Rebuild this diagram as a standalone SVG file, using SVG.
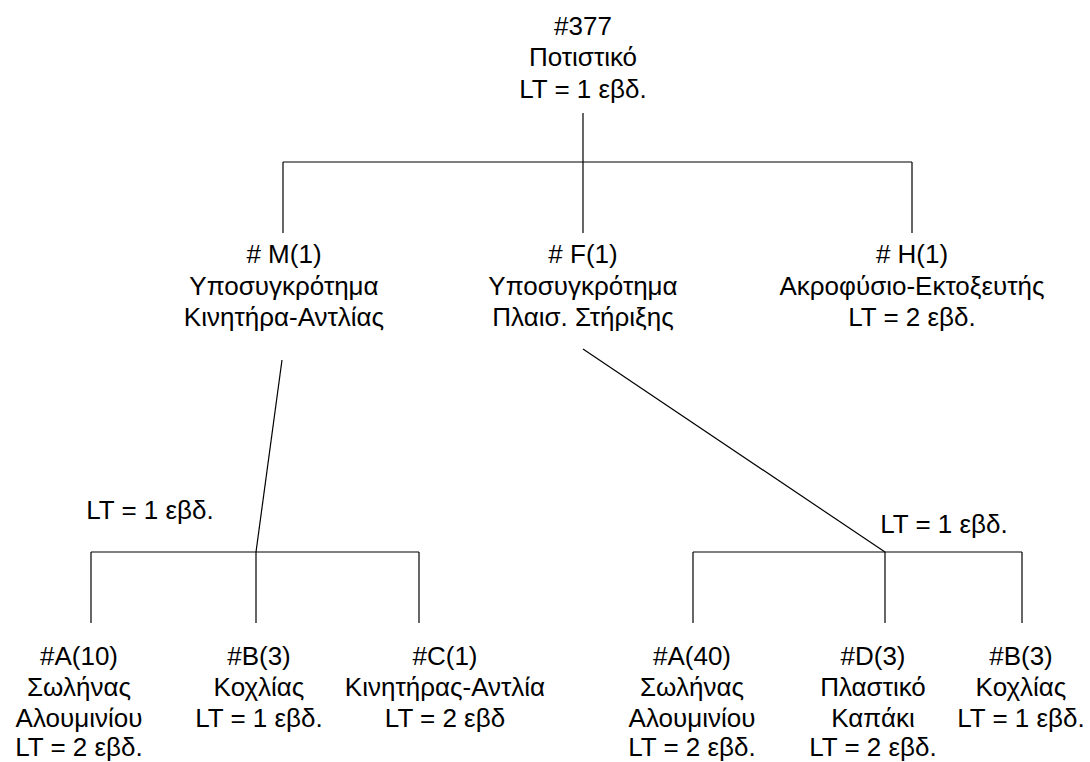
<svg xmlns="http://www.w3.org/2000/svg" width="1090" height="762" viewBox="0 0 1090 762">
  <style>
    text { font-family: "Liberation Sans", Arial, sans-serif; font-size: 26px; fill: #000; text-anchor: middle; }
    .conn line { stroke: #000; stroke-width: 1.2; }
  </style>
  <rect width="1090" height="762" fill="#fff"/>

  <!-- connectors of the product tree -->
  <g id="connectors" class="conn">
    <line x1="583" y1="113" x2="583" y2="162"/>
    <line x1="283" y1="162" x2="912" y2="162"/>
    <line x1="283" y1="162" x2="283" y2="233"/>
    <line x1="583" y1="162" x2="583" y2="233"/>
    <line x1="912" y1="162" x2="912" y2="233"/>

    <line x1="282" y1="360" x2="256" y2="552"/>
    <line x1="91" y1="552" x2="419" y2="552"/>
    <line x1="91" y1="552" x2="91" y2="623"/>
    <line x1="256" y1="552" x2="256" y2="623"/>
    <line x1="419" y1="552" x2="419" y2="623"/>

    <line x1="583" y1="349" x2="885" y2="552"/>
    <line x1="693" y1="552" x2="1022" y2="552"/>
    <line x1="693" y1="552" x2="693" y2="623"/>
    <line x1="885" y1="552" x2="885" y2="623"/>
    <line x1="1022" y1="552" x2="1022" y2="623"/>
  </g>

  <!-- lead time labels on the lower branches -->
  <g id="lt-left"><text x="150" y="519">LT = 1 εβδ.</text></g>
  <g id="lt-right"><text x="944" y="533">LT = 1 εβδ.</text></g>

  <g id="node-377">
    <text x="583" y="35">#377</text>
    <text x="583" y="66">Ποτιστικό</text>
    <text x="583" y="98">LT = 1 εβδ.</text>
  </g>

  <g id="node-M">
    <text x="284" y="263">#&#160;M(1)</text>
    <text x="284" y="295">Υποσυγκρότημα</text>
    <text x="284" y="326">Κινητήρα-Αντλίας</text>
  </g>
  <g id="node-F">
    <text x="583" y="263">#&#160;F(1)</text>
    <text x="583" y="295">Υποσυγκρότημα</text>
    <text x="583" y="326">Πλαισ. Στήριξης</text>
  </g>
  <g id="node-H">
    <text x="912" y="263">#&#160;H(1)</text>
    <text x="912" y="295">Ακροφύσιο-Εκτοξευτής</text>
    <text x="912" y="326">LT = 2 εβδ.</text>
  </g>

  <g id="node-A10">
    <text x="79" y="665">#A(10)</text>
    <text x="79" y="696">Σωλήνας</text>
    <text x="79" y="727">Αλουμινίου</text>
    <text x="79" y="756">LT = 2 εβδ.</text>
  </g>
  <g id="node-B3-left">
    <text x="259" y="665">#B(3)</text>
    <text x="259" y="696">Κοχλίας</text>
    <text x="259" y="727">LT = 1 εβδ.</text>
  </g>
  <g id="node-C1">
    <text x="445" y="665">#C(1)</text>
    <text x="445" y="696">Κινητήρας-Αντλία</text>
    <text x="445" y="727">LT = 2 εβδ</text>
  </g>

  <g id="node-A40">
    <text x="692" y="665">#A(40)</text>
    <text x="692" y="696">Σωλήνας</text>
    <text x="692" y="727">Αλουμινίου</text>
    <text x="692" y="756">LT = 2 εβδ.</text>
  </g>
  <g id="node-D3">
    <text x="873" y="665">#D(3)</text>
    <text x="873" y="696">Πλαστικό</text>
    <text x="873" y="727">Καπάκι</text>
    <text x="873" y="756">LT = 2 εβδ.</text>
  </g>
  <g id="node-B3-right">
    <text x="1021" y="665">#B(3)</text>
    <text x="1021" y="696">Κοχλίας</text>
    <text x="1021" y="727">LT = 1 εβδ.</text>
  </g>
</svg>
